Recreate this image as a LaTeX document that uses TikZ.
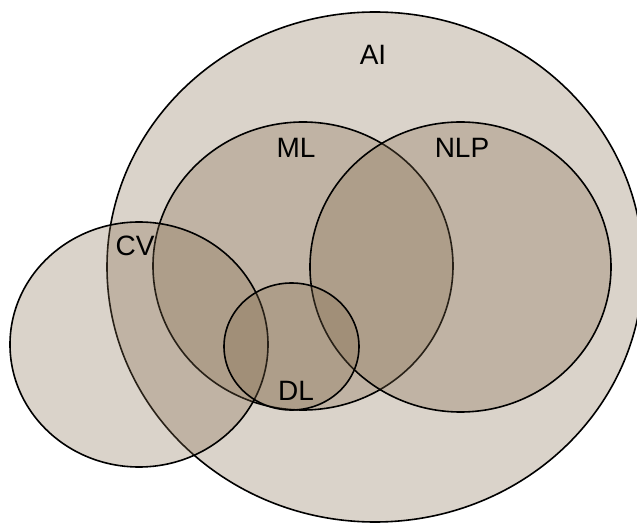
\documentclass[tikz,border=0pt]{standalone}
\usepackage{fontspec}
\setmainfont{Liberation Sans}
\definecolor{setfill}{RGB}{132,108,78}
\begin{document}
\begin{tikzpicture}[x=0.75pt,y=-0.75pt,
  setarea/.style={fill=setfill,fill opacity=0.3,draw=black,line width=1.2pt},
  setlabel/.style={font=\fontsize{21}{25}\selectfont,text=black,inner sep=0pt}]
\useasboundingbox (0,0) rectangle (637,524);
\begin{scope}
\clip (0,0) rectangle (637,524);
% sets as ellipses (centre, x radius, y radius)
\draw[setarea] (375,267) ellipse [x radius=268,y radius=255];
\draw[setarea] (303,266) ellipse [x radius=150,y radius=144];
\draw[setarea] (460.5,267) ellipse [x radius=150.5,y radius=145];
\draw[setarea] (139,344.5) ellipse [x radius=129,y radius=122.5];
\draw[setarea] (291.5,346.5) ellipse [x radius=67.5,y radius=63.5];
\end{scope}
% labels
\node[setlabel] (ai)  at (373,55)  {AI};
\node[setlabel] (ml)  at (296,148) {ML};
\node[setlabel] (nlp) at (462,148) {NLP};
\node[setlabel] (cv)  at (135,246) {CV};
\node[setlabel] (dl)  at (296,391) {DL};
\end{tikzpicture}
\end{document}
